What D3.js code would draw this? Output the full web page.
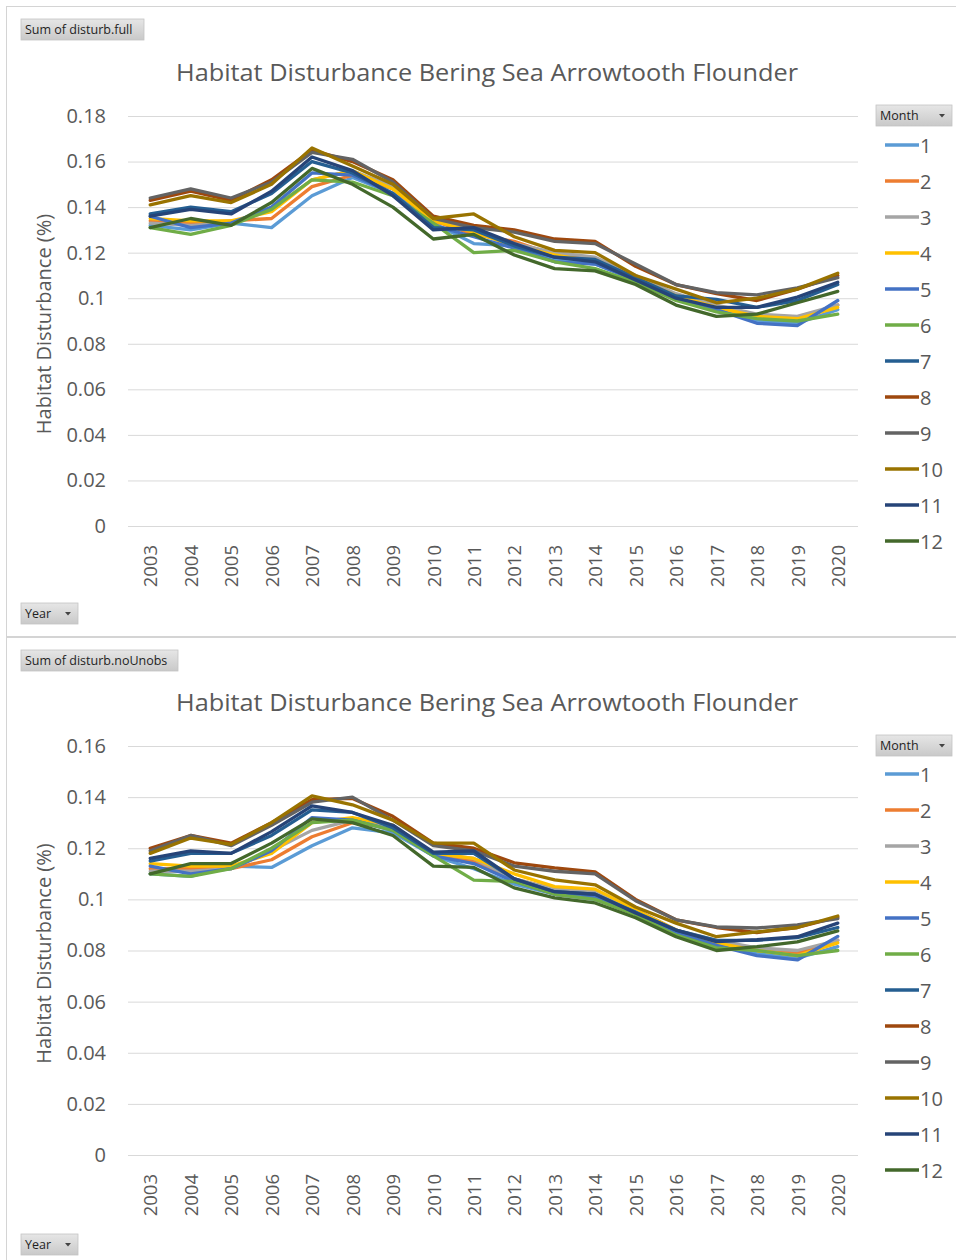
<!DOCTYPE html>
<html>
<head>
<meta charset="utf-8">
<script src="https://cdn.jsdelivr.net/npm/d3@7"></script>
<style>
  html, body { margin: 0; padding: 0; background: #ffffff; }
  svg { display: block; }
  text { font-family: "Open Sans", "Noto Sans", sans-serif; }
</style>
</head>
<body>
<svg id="chart" width="956" height="1260"></svg>
<script>
// ---------- data ----------
const years = [2003, 2004, 2005, 2006, 2007, 2008, 2009, 2010, 2011, 2012, 2013, 2014, 2015, 2016, 2017, 2018, 2019, 2020];
const months = ["1", "2", "3", "4", "5", "6", "7", "8", "9", "10", "11", "12"];
const monthColors = ["#5B9BD5", "#ED7D31", "#A5A5A5", "#FFC000", "#4472C4", "#70AD47", "#255E91", "#9E480E", "#636363", "#997300", "#264478", "#43682B"];

const chartTitle = "Habitat Disturbance Bering Sea Arrowtooth Flounder";
const yAxisTitle = "Habitat Disturbance (%)";

// Sum of disturb.full, one row per month
const disturbFull = [
  [0.132, 0.130, 0.133, 0.131, 0.145, 0.153, 0.146, 0.133, 0.124, 0.123, 0.117, 0.115, 0.108, 0.100, 0.095, 0.090, 0.089, 0.095],
  [0.134, 0.133, 0.134, 0.135, 0.149, 0.154, 0.148, 0.134, 0.128, 0.125, 0.119, 0.117, 0.109, 0.101, 0.096, 0.092, 0.091, 0.097],
  [0.133, 0.132, 0.133, 0.139, 0.152, 0.156, 0.149, 0.135, 0.130, 0.124, 0.120, 0.118, 0.110, 0.102, 0.097, 0.093, 0.092, 0.097],
  [0.135, 0.134, 0.134, 0.138, 0.152, 0.156, 0.148, 0.134, 0.129, 0.123, 0.119, 0.116, 0.109, 0.101, 0.096, 0.092, 0.091, 0.096],
  [0.136, 0.131, 0.133, 0.140, 0.155, 0.154, 0.146, 0.132, 0.127, 0.122, 0.116, 0.115, 0.108, 0.100, 0.095, 0.089, 0.088, 0.099],
  [0.131, 0.128, 0.132, 0.139, 0.152, 0.151, 0.145, 0.133, 0.120, 0.121, 0.116, 0.113, 0.107, 0.099, 0.094, 0.091, 0.090, 0.093],
  [0.137, 0.140, 0.138, 0.146, 0.160, 0.155, 0.146, 0.131, 0.130, 0.123, 0.118, 0.117, 0.109, 0.101, 0.0995, 0.096, 0.099, 0.106],
  [0.143, 0.147, 0.143, 0.152, 0.165, 0.160, 0.152, 0.136, 0.132, 0.130, 0.126, 0.125, 0.114, 0.106, 0.102, 0.099, 0.104, 0.110],
  [0.144, 0.148, 0.144, 0.151, 0.164, 0.161, 0.151, 0.135, 0.131, 0.129, 0.125, 0.124, 0.115, 0.106, 0.1025, 0.1015, 0.1045, 0.109],
  [0.141, 0.145, 0.142, 0.150, 0.166, 0.158, 0.150, 0.135, 0.137, 0.127, 0.121, 0.120, 0.110, 0.104, 0.098, 0.100, 0.104, 0.111],
  [0.136, 0.139, 0.137, 0.147, 0.162, 0.156, 0.145, 0.130, 0.131, 0.124, 0.118, 0.116, 0.108, 0.100, 0.096, 0.096, 0.1005, 0.107],
  [0.131, 0.135, 0.132, 0.142, 0.157, 0.150, 0.140, 0.126, 0.128, 0.119, 0.113, 0.112, 0.106, 0.097, 0.092, 0.093, 0.098, 0.103]
];

// Sum of disturb.noUnobs, one row per month
const disturbNoUnobs = [
  [0.110, 0.109, 0.113, 0.1125, 0.121, 0.128, 0.126, 0.117, 0.112, 0.106, 0.102, 0.100, 0.095, 0.087, 0.083, 0.079, 0.077, 0.0815],
  [0.112, 0.112, 0.112, 0.1155, 0.1245, 0.130, 0.128, 0.118, 0.115, 0.108, 0.104, 0.102, 0.096, 0.088, 0.083, 0.080, 0.079, 0.084],
  [0.111, 0.111, 0.112, 0.119, 0.127, 0.131, 0.128, 0.118, 0.116, 0.108, 0.104, 0.103, 0.096, 0.088, 0.084, 0.081, 0.080, 0.084],
  [0.114, 0.113, 0.113, 0.118, 0.130, 0.132, 0.129, 0.118, 0.116, 0.110, 0.105, 0.104, 0.096, 0.088, 0.083, 0.080, 0.078, 0.083],
  [0.113, 0.110, 0.112, 0.119, 0.132, 0.131, 0.127, 0.117, 0.114, 0.107, 0.102, 0.101, 0.095, 0.087, 0.082, 0.078, 0.0763, 0.0855],
  [0.110, 0.109, 0.112, 0.120, 0.130, 0.131, 0.127, 0.117, 0.1075, 0.107, 0.102, 0.100, 0.094, 0.086, 0.081, 0.080, 0.078, 0.080],
  [0.115, 0.118, 0.118, 0.125, 0.135, 0.134, 0.128, 0.118, 0.118, 0.108, 0.103, 0.102, 0.095, 0.088, 0.084, 0.084, 0.085, 0.089],
  [0.120, 0.125, 0.122, 0.130, 0.139, 0.1395, 0.1325, 0.122, 0.120, 0.1143, 0.1123, 0.1108, 0.100, 0.092, 0.089, 0.087, 0.089, 0.093],
  [0.119, 0.125, 0.121, 0.129, 0.138, 0.140, 0.131, 0.121, 0.119, 0.113, 0.111, 0.110, 0.0995, 0.092, 0.0892, 0.0888, 0.090, 0.0925],
  [0.118, 0.124, 0.1215, 0.130, 0.1405, 0.137, 0.131, 0.122, 0.122, 0.1115, 0.1076, 0.1057, 0.097, 0.0907, 0.0854, 0.0873, 0.089, 0.0935],
  [0.116, 0.119, 0.118, 0.1265, 0.1366, 0.134, 0.129, 0.1185, 0.119, 0.108, 0.103, 0.102, 0.0947, 0.088, 0.0835, 0.0842, 0.0854, 0.0907],
  [0.110, 0.114, 0.114, 0.122, 0.1315, 0.130, 0.125, 0.113, 0.1125, 0.1045, 0.1006, 0.0986, 0.0928, 0.0854, 0.080, 0.0815, 0.0834, 0.0877]
];

const yTicksFull = [0, 0.02, 0.04, 0.06, 0.08, 0.1, 0.12, 0.14, 0.16, 0.18];
const yTicksNoUnobs = [0, 0.02, 0.04, 0.06, 0.08, 0.1, 0.12, 0.14, 0.16];

// ---------- drawing ----------
const svg = d3.select("#chart");
const defs = svg.append("defs");
const grad = defs.append("linearGradient").attr("id", "btnGrad").attr("x1", 0).attr("y1", 0).attr("x2", 0).attr("y2", 1);
grad.append("stop").attr("offset", "0%").attr("stop-color", "#e6e6e6");
grad.append("stop").attr("offset", "100%").attr("stop-color", "#c9c9c9");

function button(g, x, y, w, h, label, arrow) {
  const b = g.append("g").attr("transform", `translate(${x},${y})`);
  b.append("rect").attr("width", w).attr("height", h).attr("fill", "url(#btnGrad)")
    .attr("stroke", "#c4c4c4").attr("stroke-width", 0.8);
  b.append("text").attr("x", 4).attr("y", h / 2 + 4.5).attr("font-size", 12.5)
    .attr("fill", "#1f1f1f").attr("font-family", "'Liberation Sans', Arial, sans-serif").text(label);
  if (arrow) {
    b.append("path").attr("d", `M${w - 13},${h / 2 - 1.5} l6,0 l-3,3.5 z`).attr("fill", "#444");
  }
}

function drawChart(cfg) {
  const g = svg.append("g");
  // frame
  g.append("rect").attr("x", 6.5).attr("y", cfg.frameTop + 0.5).attr("width", 980).attr("height", cfg.frameH)
    .attr("fill", "#ffffff").attr("stroke", "#d4d4d4").attr("stroke-width", 1);

  const x = d3.scalePoint().domain(years).range([130, 858]).padding(0.5);
  const y = d3.scaleLinear().domain([0, cfg.yMax]).range([cfg.y0, cfg.yTop]);

  // gridlines
  g.append("g").attr("class", "grid")
    .attr("transform", "translate(128,0)")
    .call(d3.axisLeft(y).tickValues(cfg.ticks).tickSize(-730).tickFormat(""))
    .call(s => s.select(".domain").remove())
    .call(s => s.selectAll("line").attr("stroke", "#d9d9d9").attr("stroke-width", 1));

  // y tick labels
  g.append("g").attr("transform", "translate(128,0)")
    .call(d3.axisLeft(y).tickValues(cfg.ticks).tickSize(0).tickPadding(22).tickFormat(d => d3.format("")(+d.toFixed(2))))
    .call(s => s.select(".domain").remove())
    .call(s => s.selectAll("text").attr("font-size", 20).attr("fill", "#595959")
      .attr("font-family", "'Open Sans', sans-serif"));

  // x tick labels
  g.append("g").attr("transform", `translate(0,${cfg.y0})`)
    .call(d3.axisBottom(x).tickSize(0).tickPadding(0))
    .call(s => s.select(".domain").remove())
    .call(s => s.selectAll("text")
      .attr("font-size", 18.5).attr("fill", "#595959")
      .attr("transform", "rotate(-90)")
      .attr("text-anchor", "end")
      .attr("dy", "0.36em")
      .attr("dx", 0)
      .attr("y", 0)
      .attr("x", -19));

  // title
  g.append("text").attr("x", 487).attr("y", cfg.titleY).attr("text-anchor", "middle")
    .attr("font-size", 23).attr("fill", "#595959").attr("textLength", 622).attr("lengthAdjust", "spacingAndGlyphs")
    .text(chartTitle);

  // y axis title
  g.append("text").attr("transform", `translate(51,${(cfg.yTop + cfg.y0) / 2 + 3}) rotate(-90)`)
    .attr("text-anchor", "middle").attr("font-size", 20).attr("fill", "#595959")
    .text(yAxisTitle);

  // lines
  const line = d3.line().x((d, i) => x(years[i])).y(d => y(d));
  g.append("g").selectAll("path").data(cfg.data).join("path")
    .attr("d", d => line(d))
    .attr("fill", "none")
    .attr("stroke", (d, i) => monthColors[i])
    .attr("stroke-width", 3.3)
    .attr("stroke-linejoin", "round")
    .attr("stroke-linecap", "round");

  // legend
  const lg = g.append("g");
  months.forEach((m, i) => {
    const ly = cfg.legendY + i * 36;
    lg.append("line").attr("x1", 885).attr("x2", 919).attr("y1", ly).attr("y2", ly)
      .attr("stroke", monthColors[i]).attr("stroke-width", 3.3);
    lg.append("text").attr("x", 920).attr("y", ly + 7.5).attr("font-size", 20).attr("fill", "#595959").text(m);
  });

  // pivot field buttons
  button(g, 21, cfg.frameTop + 13, cfg.valueBtnW, 21, cfg.valueLabel, false);
  button(g, 876, cfg.yTop - 11, 76, 21, "Month", true);
  button(g, 21, cfg.frameH + cfg.frameTop - 33, 57, 21, "Year", true);
}

drawChart({
  frameTop: 6, frameH: 630, yTop: 116, y0: 526, yMax: 0.18, ticks: yTicksFull,
  titleY: 81, legendY: 145, valueLabel: "Sum of disturb.full", valueBtnW: 123, data: disturbFull
});
drawChart({
  frameTop: 637, frameH: 630, yTop: 746, y0: 1155, yMax: 0.16, ticks: yTicksNoUnobs,
  titleY: 711, legendY: 774, valueLabel: "Sum of disturb.noUnobs", valueBtnW: 157, data: disturbNoUnobs
});
</script>
</body>
</html>
